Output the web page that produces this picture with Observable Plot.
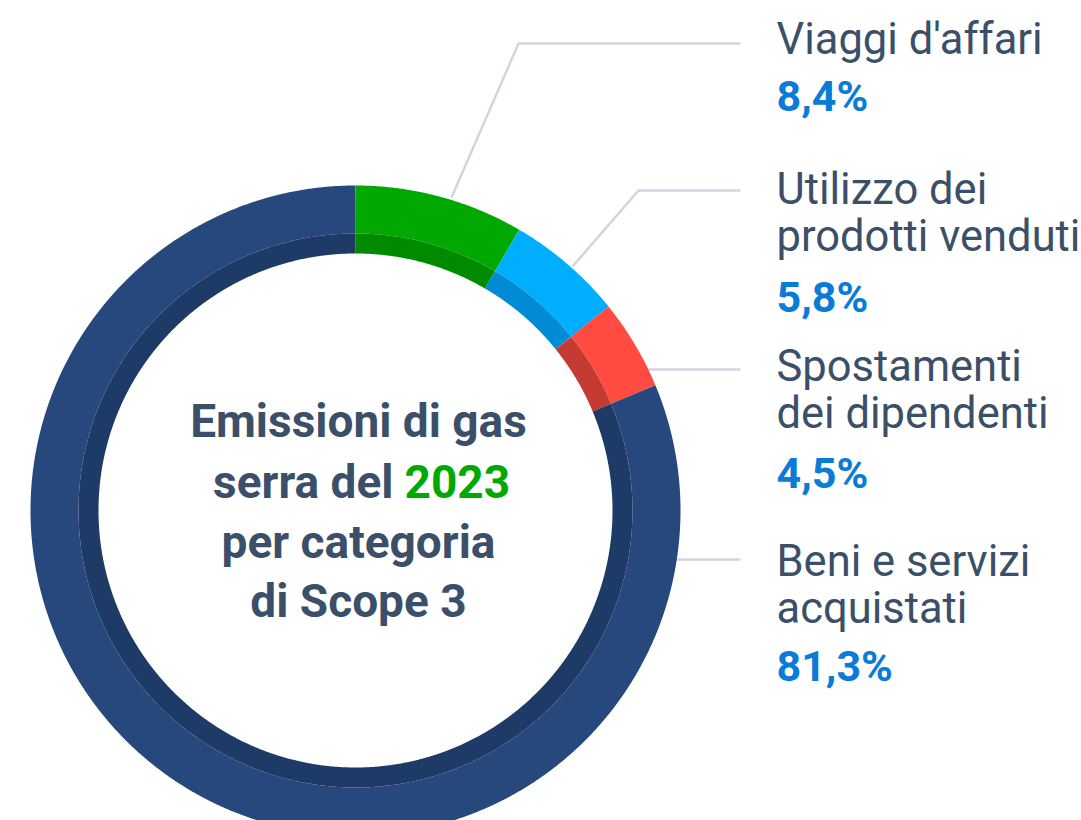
<!DOCTYPE html>
<html><head><meta charset="utf-8">
<script src="https://cdn.jsdelivr.net/npm/d3@7"></script>
<script src="https://cdn.jsdelivr.net/npm/@observablehq/plot@0.6"></script>
<style>html,body{margin:0;padding:0;background:#fff;} #chart{width:1081px;height:820px;overflow:hidden}</style>
</head><body><div id="chart"></div>
<script>
// ---- data ----
const categories = ["Viaggi d'affari", "Utilizzo dei\nprodotti venduti", "Spostamenti\ndei dipendenti", "Beni e servizi\nacquistati"];
const shares = [8.4, 5.8, 4.5, 81.3];
const pctLabels = ["8,4%", "5,8%", "4,5%", "81,3%"];
const outerColors = ["#00a800", "#00aeff", "#ff4b40", "#27487c"];
const innerColors = ["#008a00", "#008bd4", "#c33b33", "#1e3a66"];
const titleLines = ["Emissioni di gas", "serra del", "2023", "per categoria", "di Scope 3"];

// ---- layout ----
const W = 1081, H = 820;
const cx = 355, cy = 510;
const outerBand = {r: 301, w: 48};
const innerBand = {r: 267, w: 20};
const labelX = 776;
const nameBaseline = [53, 250, 427, 622];
const pctBaseline = [110, 311, 487, 680];
const leaderPaths = [
  [[451, 197], [518, 43], [740, 43]],
  [[572, 266], [638, 190], [740, 190]],
  [[600, 369], [740, 369]],
  [[640, 559], [740, 559]]
];
const titleX = 358;
const titleMiddle = [
  {text: titleLines[0], x: titleX, y: 436},
  {text: titleLines[3], x: titleX, y: 557},
  {text: titleLines[4], x: titleX, y: 616}
];
const titleEnd = [{text: titleLines[1], x: 393, y: 497}];
const titleStart = [{text: titleLines[2], x: 404, y: 497}];

// ---- derived arc geometry ----
const total = d3.sum(shares);
let acc = 0;
const segments = shares.map((v, i) => {
  const a0 = acc / total * 360; acc += v; const a1 = acc / total * 360;
  return {i, a0, a1};
});
function arcPoints(band, colors) {
  const pts = [];
  for (const s of segments) {
    const n = Math.max(2, Math.ceil((s.a1 - s.a0) / 0.25));
    for (let k = 0; k <= n; k++) {
      const a = (s.a0 + (s.a1 - s.a0) * k / n) * Math.PI / 180;
      pts.push({seg: s.i, x: cx + band.r * Math.sin(a), y: cy - band.r * Math.cos(a), color: colors[s.i]});
    }
  }
  return pts;
}
const outerPts = arcPoints(outerBand, outerColors);
const innerPts = arcPoints(innerBand, innerColors);
const leaderPts = leaderPaths.flatMap((p, i) => p.map(([x, y]) => ({seg: i, x, y})));
const labels = categories.map((c, i) => ({name: c, pct: pctLabels[i], yName: nameBaseline[i], yPct: pctBaseline[i]}));

const titleStyle = {x: "x", y: "y", text: "text", lineAnchor: "bottom", fontSize: 46, fontWeight: 700, fontFamily: "Roboto"};

const chart = Plot.plot({
  width: W, height: H, margin: 0,
  x: {domain: [0, W], range: [0, W], axis: null},
  y: {domain: [0, H], range: [0, H], axis: null},
  color: {type: "identity"},
  style: {background: "#fff", fontFamily: "Roboto, sans-serif"},
  marks: [
    Plot.line(leaderPts, {x: "x", y: "y", z: "seg", stroke: "#d1d6de", strokeWidth: 2.5, strokeLinejoin: "miter", strokeLinecap: "butt"}),
    Plot.line(outerPts, {x: "x", y: "y", z: "seg", stroke: "color", strokeWidth: outerBand.w, strokeLinecap: "butt", strokeLinejoin: "round"}),
    Plot.line(innerPts, {x: "x", y: "y", z: "seg", stroke: "color", strokeWidth: innerBand.w, strokeLinecap: "butt", strokeLinejoin: "round"}),
    Plot.text(labels, {x: () => labelX, y: "yName", text: "name", textAnchor: "start", lineAnchor: "bottom", lineHeight: 1.08, fontSize: 43.5, fill: "#3b5068", fontFamily: "Roboto"}),
    Plot.text(labels, {x: () => labelX, y: "yPct", text: "pct", textAnchor: "start", lineAnchor: "bottom", fontSize: 43, fontWeight: 700, fill: "#0a7bd6", fontFamily: "Roboto"}),
    Plot.text(titleMiddle, {...titleStyle, textAnchor: "middle", fill: "#3b5068"}),
    Plot.text(titleEnd, {...titleStyle, textAnchor: "end", fill: "#3b5068"}),
    Plot.text(titleStart, {...titleStyle, textAnchor: "start", fill: "#00a800"})
  ]
});
document.getElementById("chart").appendChild(chart);
</script>
</body></html>
